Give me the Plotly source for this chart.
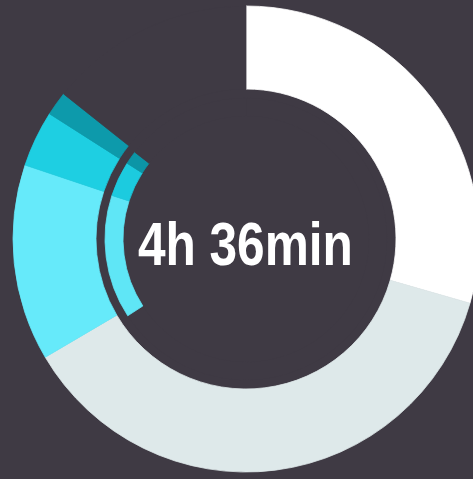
import plotly.graph_objects as go

# Data (minutes of a 24h day, clockwise from 12 o'clock)
outer_labels = ["White", "Gray", "Light cyan", "Cyan", "Dark teal", "Gap"]
outer_values = [424, 534, 196, 56, 24, 206]
inner_labels = ["Gap A", "Light cyan", "Cyan", "Dark teal", "Gap B"]
inner_values = [948, 204, 58, 22, 208]
center_text = "4h 36min"

BG = "#3f3a44"
outer_colors = ["#ffffff", "#dee9ea", "#66eafa", "#1ecfe2", "#0d9aab", BG]
inner_colors = [BG, "#5fe6f6", "#1ccbdf", "#0c95a6", BG]

W, H = 482, 479
cx, cy = 246, 239
R_out, R_out_in = 233, 150
R_in, R_in_in = 141, 123


def dom(r):
    return dict(x=[(cx - r) / W, (cx + r) / W], y=[1 - (cy + r) / H, 1 - (cy - r) / H])


fig = go.Figure()
fig.add_trace(go.Pie(
    labels=outer_labels, values=outer_values, sort=False, direction="clockwise",
    rotation=0, hole=R_out_in / R_out, domain=dom(R_out),
    marker=dict(colors=outer_colors, line=dict(width=0.8, color=outer_colors)),
    textinfo="none", hoverinfo="none", showlegend=False,
))
fig.add_trace(go.Pie(
    labels=inner_labels, values=inner_values, sort=False, direction="clockwise",
    rotation=0, hole=R_in_in / R_in, domain=dom(R_in),
    marker=dict(colors=inner_colors, line=dict(width=0.8, color=inner_colors)),
    textinfo="none", hoverinfo="none", showlegend=False,
))
fig.add_annotation(
    x=cx / W, y=1 - 243 / H, xref="paper", yref="paper", text="<b>" + center_text + "</b>",
    showarrow=False, font=dict(family="Liberation Sans, Arial, sans-serif", size=62, color="#ffffff"),
    xanchor="center", yanchor="middle",
)
fig.update_layout(
    width=W, height=H, margin=dict(l=0, r=0, t=0, b=0),
    paper_bgcolor=BG, plot_bgcolor=BG, showlegend=False,
)

post = """
document.body.style.margin='0';
document.body.style.overflow='hidden';
document.body.style.background='%s';
var gd=document.getElementById('{plot_id}');
gd.querySelectorAll('.annotation-text').forEach(function(t){
  t.style.transformBox='fill-box';
  t.style.transformOrigin='center';
  t.style.transform='scaleX(0.8)';
});
""" % BG
fig.write_html("out.html", post_script=post, config={"displayModeBar": False, "staticPlot": True})
